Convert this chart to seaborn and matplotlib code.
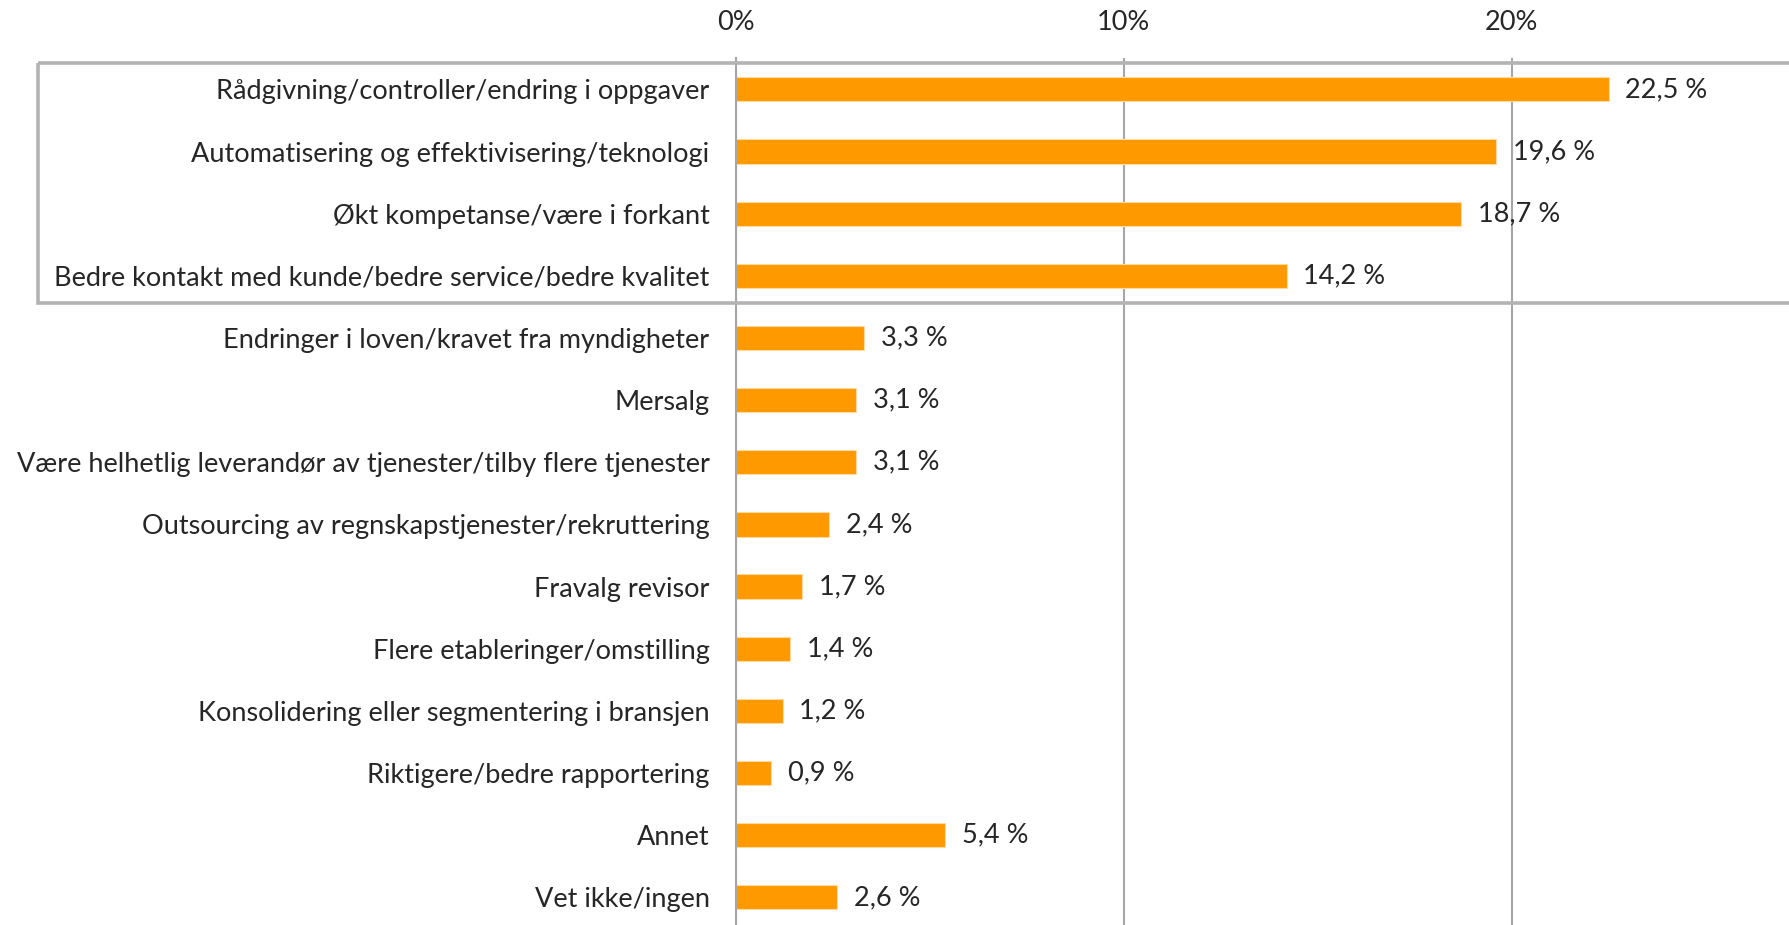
import matplotlib
matplotlib.use("Agg")
import matplotlib.pyplot as plt
import matplotlib.transforms as mtransforms
from matplotlib.patches import Rectangle
from matplotlib.ticker import FixedLocator
import pandas as pd
import seaborn as sns

sns.set_style("white")
plt.rcParams['font.family'] = ['Lato', 'DejaVu Sans']

# svar i prosent
categories = [
    "Rådgivning/controller/endring i oppgaver",
    "Automatisering og effektivisering/teknologi",
    "Økt kompetanse/være i forkant",
    "Bedre kontakt med kunde/bedre service/bedre kvalitet",
    "Endringer i loven/kravet fra myndigheter",
    "Mersalg",
    "Være helhetlig leverandør av tjenester/tilby flere tjenester",
    "Outsourcing av regnskapstjenester/rekruttering",
    "Fravalg revisor",
    "Flere etableringer/omstilling",
    "Konsolidering eller segmentering i bransjen",
    "Riktigere/bedre rapportering",
    "Annet",
    "Vet ikke/ingen",
]
values = [22.5, 19.6, 18.7, 14.2, 3.3, 3.1, 3.1, 2.4, 1.7, 1.4, 1.2, 0.9, 5.4, 2.6]
x_ticks = [0, 10, 20]
n_boxed = 4  # de fire øverste er rammet inn

df = pd.DataFrame({"kategori": categories, "andel": values})

fig = plt.figure(figsize=(17.89, 9.25), dpi=100)
ax = fig.add_axes([0.4114, -0.0037, 0.542, 0.9407])

sns.barplot(data=df, y="kategori", x="andel", orient="h", color="#ff9900",
            width=0.39, saturation=1, edgecolor="#ffd9a0", linewidth=0.8, ax=ax)

ax.set_xlim(0, 25)
ax.set_xlabel("")
ax.set_ylabel("")
ax.xaxis.tick_top()
ax.set_xticks(x_ticks)
ax.set_xticklabels([f"{t}%" for t in x_ticks], fontsize=19.5)
ax.tick_params(axis="x", length=0, pad=17)
ax.tick_params(axis="y", which="major", length=0, pad=19, labelsize=19.5)
ax.yaxis.set_minor_locator(FixedLocator([i + 0.5 for i in range(-1, len(categories))]))
ax.tick_params(axis="y", which="minor", length=7, width=1.2, color="#a6a6a6")
ax.grid(axis="x", color="#a6a6a6", linewidth=1.5)
ax.set_axisbelow(True)
for s in ["top", "right", "bottom"]:
    ax.spines[s].set_visible(False)
ax.spines["left"].set_color("#a6a6a6")
ax.spines["left"].set_linewidth(1.5)

# verdietiketter
for i, v in enumerate(values):
    ax.annotate(f"{v:.1f} %".replace(".", ","), xy=(v, i), xytext=(12, 0),
                textcoords="offset points", va="center", ha="left", fontsize=19.5)

# ramme rundt de fire øverste
trans = mtransforms.blended_transform_factory(fig.transFigure, ax.transData)
box = Rectangle((0.021, -0.42), 1.1, n_boxed - 0.15, transform=trans, fill=False,
                edgecolor="#b3b3b3", linewidth=2.6, clip_on=False, zorder=5)
fig.add_artist(box)

fig.savefig("out.png", dpi=100)
